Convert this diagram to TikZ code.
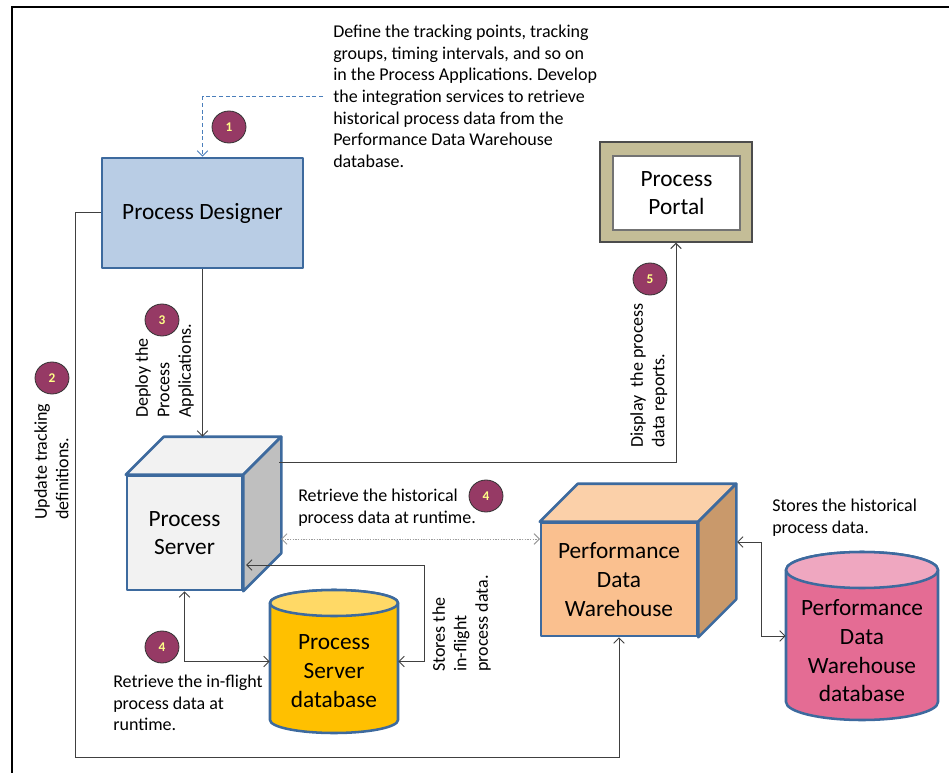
\documentclass[tikz,border=0pt]{standalone}
\usepackage{fontspec}
\setmainfont{Carlito}
\frenchspacing
\usetikzlibrary{arrows.meta,shapes.geometric,calc}
\definecolor{bordblue}{HTML}{3D6A9E}
\definecolor{pdfill}{HTML}{B9CDE5}
\definecolor{psfront}{HTML}{F2F2F2}
\definecolor{psside}{HTML}{BFBFBF}
\definecolor{pdwfront}{HTML}{FAC08F}
\definecolor{pdwtop}{HTML}{FBD0A9}
\definecolor{pdwside}{HTML}{C9996B}
\definecolor{dbyellow}{HTML}{FFC000}
\definecolor{dbyellowtop}{HTML}{FFD966}
\definecolor{dbpink}{HTML}{E46C94}
\definecolor{dbpinktop}{HTML}{EFA7C0}
\definecolor{portalfill}{HTML}{C4BD97}
\definecolor{badgefill}{HTML}{963A65}
\definecolor{badgetext}{HTML}{FFFF88}
\definecolor{dashblue}{HTML}{4A7EBB}
\definecolor{linegrey}{HTML}{404040}
\begin{document}
\begin{tikzpicture}[x=0.75pt,y=-0.75pt,
  smalltxt/.style={font=\fontsize{13.5}{16.2}\selectfont, inner sep=0pt, align=left},
  bigtxt/.style={font=\fontsize{17.5}{21.5}\selectfont, align=center},
  badge/.style={ellipse, draw=black!80, line width=0.6pt, fill=badgefill, minimum width=25.5pt, minimum height=24pt, inner sep=0pt, text=badgetext, font=\fontsize{10}{10}\selectfont\bfseries},
  conn/.style={draw=linegrey, line width=0.75pt},
  arr/.style={conn, -{Straight Barb[length=4pt,width=8pt]}},
  darr/.style={conn, {Straight Barb[length=4pt,width=8pt]}-{Straight Barb[length=4pt,width=8pt]}},
  thickborder/.style={draw=bordblue, line width=1.9pt, line join=round},
  rottxt/.style={smalltxt, rotate=90, anchor=north west}
]
\useasboundingbox (0,0) rectangle (949,773);
% frame
\draw[line width=1.1pt] (12,773) -- (12,7) -- (949,7);

% ---------- Process Designer ----------
\node[thickborder, fill=pdfill, minimum width=150.75pt, minimum height=82.5pt, bigtxt] (pd) at (202.5,213) {Process Designer};

% ---------- Process Portal ----------
\node[draw=black!70, line width=0.9pt, fill=portalfill, minimum width=114pt, minimum height=75pt] (portalout) at (676,192) {};
\node[draw=black!55, line width=0.8pt, fill=white, minimum width=95.25pt, minimum height=55.5pt, bigtxt] (portal) at (676.5,193) {Process\\Portal};

% ---------- Process Server cube ----------
\node[thickborder, fill=psfront, minimum width=86.25pt, minimum height=85.5pt, bigtxt] (ps) at (184.5,533) {Process\\Server};
\draw[thickborder, fill=psfront] (ps.north west) -- ([shift={(38,-38)}]ps.north west) -- ([shift={(38,-38)}]ps.north east) -- (ps.north east) -- cycle;
\draw[thickborder, fill=psside] (ps.north east) -- ([shift={(38,-38)}]ps.north east) -- ([shift={(38,-38)}]ps.south east) -- (ps.south east) -- cycle;
\coordinate (psback) at ([shift={(38,-38)}]ps.north west);

% ---------- Performance Data Warehouse cube ----------
\node[thickborder, fill=pdwfront, minimum width=117pt, minimum height=84.75pt, bigtxt] (pdw) at (619,579.5) {Performance\\Data\\Warehouse};
\draw[thickborder, fill=pdwtop] (pdw.north west) -- ([shift={(38,-38)}]pdw.north west) -- ([shift={(38,-38)}]pdw.north east) -- (pdw.north east) -- cycle;
\draw[thickborder, fill=pdwside] (pdw.north east) -- ([shift={(38,-38)}]pdw.north east) -- ([shift={(38,-38)}]pdw.south east) -- (pdw.south east) -- cycle;

% ---------- Process Server database ----------
\node[minimum width=96pt, minimum height=107.25pt, inner sep=0pt] (psdb) at (334,661.5) {};
\draw[thickborder, fill=dbyellow] (270,603) -- (270,720) arc[start angle=180, end angle=360, x radius=48pt, y radius=9.75pt] -- (398,603) arc[start angle=0, end angle=180, x radius=48pt, y radius=9.75pt] -- cycle;
\draw[thickborder, fill=dbyellowtop] (334,603) ellipse[x radius=48pt, y radius=9.75pt];
\node[bigtxt] at (334,671) {Process\\Server\\database};

% ---------- PDW database ----------
\node[minimum width=114pt, minimum height=126pt, inner sep=0pt] (pdwdb) at (862,636) {};
\draw[thickborder, fill=dbpink] (786,570) -- (786,702) arc[start angle=180, end angle=360, x radius=57pt, y radius=13.5pt] -- (938,570) arc[start angle=0, end angle=180, x radius=57pt, y radius=13.5pt] -- cycle;
\draw[thickborder, fill=dbpinktop] (862,570) ellipse[x radius=57pt, y radius=13.5pt];
\node[bigtxt] at (862,651) {Performance\\Data\\Warehouse\\database};

% ---------- Texts ----------
\node[smalltxt, anchor=north west] (t1) at (333,25) {Define the tracking points, tracking\\groups, timing intervals, and so on\\in the Process Applications. Develop\\the integration services to retrieve\\historical process data from the\\Performance Data Warehouse\\database.};
\node[smalltxt, anchor=north west] (t4a) at (298,489) {Retrieve the historical\\process data at runtime.};
\node[smalltxt, anchor=north west] (t4b) at (113,675) {Retrieve the in-flight\\process data at\\runtime.};
\node[smalltxt, anchor=north west] (t6) at (772,499) {Stores the historical\\process data.};
\node[rottxt] (t3) at (135,418) {Deploy the\\Process\\Applications.};
\node[rottxt] (t2) at (34,520) {Update tracking\\definitions.};
\node[rottxt] (t5) at (630,448) {Display\ \ the process\\data reports.};
\node[rottxt] (t7) at (432,672) {Stores the\\in-flight\\process data.};

% ---------- Badges ----------
\node[badge] (b1) at (229,127) {1};
\node[badge] (b2) at (52,378) {2};
\node[badge] (b3) at (162,320) {3};
\node[badge] (b4a) at (486,496) {4};
\node[badge] (b4b) at (162,647) {4};
\node[badge] (b5) at (650,279) {5};

% ---------- Connectors ----------
\coordinate (c1) at (323,97);
\draw[draw=dashblue, line width=0.75pt, dash pattern=on 3pt off 2pt, -{Straight Barb[length=4pt,width=8pt]}] (c1) -| (pd.north);

\draw[arr] (pd.south) -- (pd.south |- psback);

\coordinate (pdl) at (75,757);
\draw[arr] (pd.west) -| (pdl) -| (pdw.south);

\coordinate (psr) at (279,462);
\draw[arr] (psr) -| (portalout.south);

\coordinate (dotl) at (281,539);
\coordinate (dotr) at (540,539);
\draw[draw=black!40, line width=0.7pt, dash pattern=on 1pt off 1pt, {Straight Barb[length=4pt,width=8pt]}-{Straight Barb[length=4pt,width=8pt]}] (dotl) -- (dotr);

\coordinate (psin) at (246,565);
\coordinate (dbturn) at (424,565);
\draw[darr] (psdb.east) -| (dbturn) -- (psin);

\draw[darr] (ps.south) |- (psdb.west);

\coordinate (pdwr) at (737,542);
\coordinate (pdwturn) at (761,542);
\draw[darr] (pdwr) -- (pdwturn) |- (pdwdb.west);
\end{tikzpicture}
\end{document}
